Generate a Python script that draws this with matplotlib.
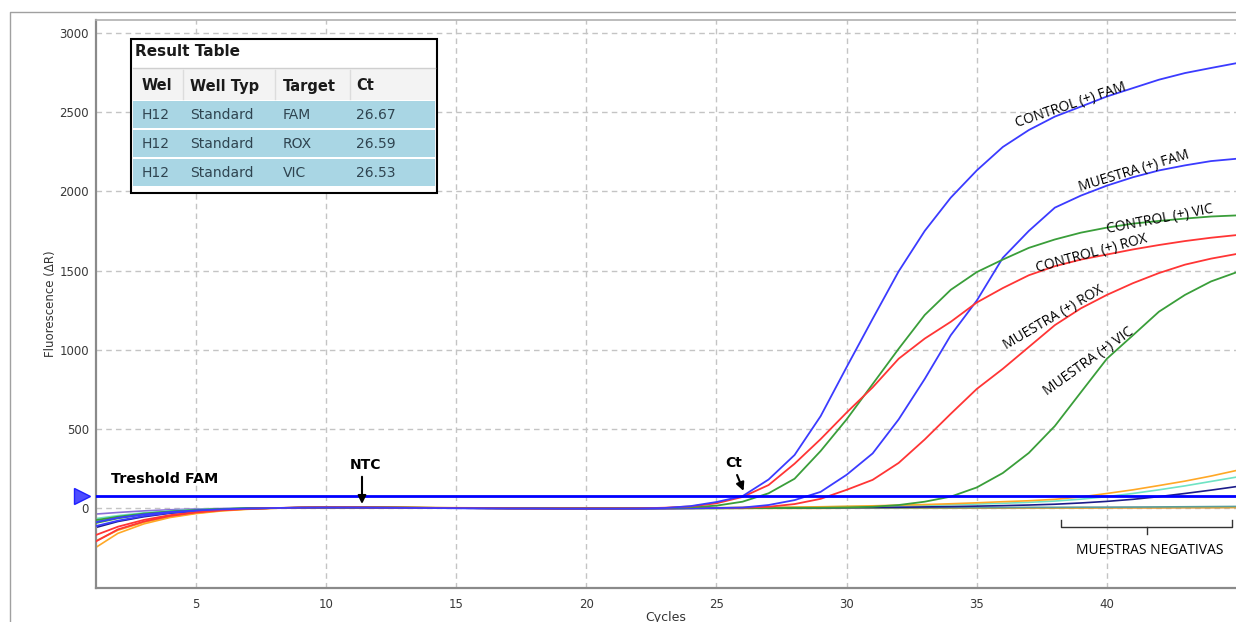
import matplotlib
matplotlib.use("Agg")
import matplotlib.pyplot as plt
from matplotlib.patches import Rectangle
from matplotlib.lines import Line2D

# ---------------- data ----------------
cycles = list(range(1, 46))

ctrl_fam = [-95, -62, -40, -25, -15, -8, -3, 0, 2, 3,
            3, 2, 1, 0, -1, -2, -3, -3, -4, -4,
            -4, -3, 0, 12, 38, 75, 180, 335, 580, 890,
            1195, 1495, 1750, 1960, 2132, 2280, 2387, 2472, 2535, 2599,
            2652, 2705, 2747, 2779, 2810]
mue_fam = [-120, -80, -50, -30, -18, -9, -3, 0, 2, 3,
           3, 2, 1, 0, -1, -2, -3, -3, -4, -4,
           -4, -4, -3, -2, 0, 3, 19, 50, 102, 210,
           345, 560, 815, 1091, 1310, 1580, 1750, 1897, 1973, 2036,
           2089, 2132, 2164, 2191, 2206]
ctrl_rox = [-225, -135, -85, -50, -28, -14, -5, 0, 3, 4,
            4, 3, 2, 1, 0, -1, -2, -3, -3, -3,
            -3, -2, 2, 10, 30, 70, 145, 280, 435, 603,
            762, 943, 1070, 1176, 1298, 1389, 1470, 1527, 1569, 1601,
            1633, 1661, 1686, 1707, 1724]
mue_rox = [-180, -118, -75, -45, -25, -12, -4, 0, 3, 4,
           4, 3, 2, 1, 0, -1, -2, -3, -3, -3,
           -3, -3, -2, -1, 0, 2, 8, 25, 58, 115,
           178, 285, 433, 595, 752, 879, 1017, 1155, 1261, 1346,
           1420, 1484, 1537, 1575, 1605]
ctrl_vic = [-80, -55, -35, -22, -13, -6, -2, 0, 2, 3,
            3, 3, 2, 1, 0, -1, -2, -2, -3, -3,
            -3, -2, 0, 5, 15, 40, 93, 185, 360, 560,
            783, 1006, 1219, 1378, 1490, 1569, 1643, 1696, 1739, 1771,
            1796, 1813, 1828, 1841, 1848]
mue_vic = [-100, -65, -40, -24, -14, -7, -2, 0, 2, 3,
           3, 3, 2, 1, 0, -1, -2, -2, -3, -3,
           -3, -3, -3, -2, -2, -1, 0, 1, 2, 4,
           8, 19, 40, 72, 130, 221, 348, 518, 731, 943,
           1091, 1240, 1346, 1431, 1490]

neg_orange = [-265, -160, -100, -60, -35, -18, -8, -2, 2, 4,
              5, 5, 4, 3, 2, 1, 0, -1, -1, -1,
              -1, 0, 0, 1, 2, 3, 4, 6, 8, 11,
              14, 18, 22, 27, 33, 40, 46, 55, 70, 92,
              115, 142, 170, 202, 238]
neg_aqua = [-70, -48, -30, -18, -10, -5, -2, 0, 2, 3,
            3, 3, 2, 1, 0, -1, -1, -2, -2, -2,
            -2, -1, 0, 1, 2, 3, 4, 5, 7, 9,
            11, 14, 17, 21, 25, 30, 36, 44, 56, 72,
            92, 115, 140, 168, 196]
neg_navy = [-130, -85, -55, -33, -20, -10, -4, 0, 2, 3,
            3, 3, 2, 1, 0, -1, -1, -2, -2, -2,
            -2, -2, -1, -1, 0, 0, 1, 2, 2, 3,
            4, 5, 7, 9, 12, 15, 19, 24, 32, 42,
            55, 72, 92, 113, 136]
neg_teal = [-90, -60, -38, -23, -13, -6, -2, 0, 2, 3,
            4, 4, 3, 2, 1, 0, -1, -1, -2, -2,
            -2, -2, -2, -1, -1, -1, 0, 0, 0, 1,
            1, 1, 2, 2, 3, 3, 4, 4, 5, 5,
            6, 7, 8, 9, 10]
neg_orange2 = [-220, -140, -90, -55, -32, -16, -6, -1, 2, 3,
               4, 4, 3, 2, 1, 0, -1, -1, -2, -2,
               -2, -2, -2, -2, -2, -2, -2, -2, -2, -1,
               -1, -1, -1, -1, 0, 0, 0, 0, 0, 1,
               1, 1, 2, 2, 3]
neg_purple = [-40, -28, -18, -11, -6, -3, -1, 0, 1, 2,
              2, 2, 2, 1, 1, 0, 0, -1, -1, -1,
              -1, -1, -1, -1, -1, -1, -1, 0, 0, 0,
              0, 0, 1, 1, 1, 1, 2, 2, 2, 3,
              3, 3, 4, 4, 5]

threshold_fam = 75

x_ticks = [5, 10, 15, 20, 25, 30, 35, 40]
y_ticks = [0, 500, 1000, 1500, 2000, 2500, 3000]

table_title = "Result Table"
table_header = ["Wel", "Well Typ", "Target", "Ct"]
table_well = ["H12", "H12", "H12"]
table_type = ["Standard", "Standard", "Standard"]
table_target = ["FAM", "ROX", "VIC"]
table_ct = ["26.67", "26.59", "26.53"]

curve_labels = ["CONTROL (+) FAM", "MUESTRA (+) FAM", "CONTROL (+) VIC",
                "CONTROL (+) ROX", "MUESTRA (+) ROX", "MUESTRA (+) VIC"]

# ---------------- figure ----------------
W, H = 1236, 622
fig = plt.figure(figsize=(W / 100, H / 100), dpi=100)
fig.patch.set_facecolor("white")

def fx(px):
    return px / W

def fy(py):
    return 1 - py / H

ax = fig.add_axes([fx(96), fy(588), fx(1236) - fx(96), fy(20) - fy(588)])
ax.set_xlim(1.16, 44.96)
ax.set_ylim(-505, 3082)

BLUE = "#3b3bff"
RED = "#ff3535"
GREEN = "#3a9e3a"

for data, col in [(neg_purple, "#8a6fd8"), (neg_orange2, "#f5a623"),
                  (neg_teal, "#5a9e9a"), (neg_aqua, "#6fe3c4"),
                  (neg_navy, "#1c1c8a"), (neg_orange, "#ffa826")]:
    ax.plot(cycles, data, color=col, lw=1.2, zorder=2)

for data, col in [(mue_vic, GREEN), (mue_rox, RED), (mue_fam, BLUE),
                  (ctrl_vic, GREEN), (ctrl_rox, RED), (ctrl_fam, BLUE)]:
    ax.plot(cycles, data, color=col, lw=1.3, zorder=3)

ax.axhline(threshold_fam, color="#0000ff", lw=2.0, zorder=4)
ax.plot([-0.012], [threshold_fam], marker=">", markersize=11,
        color="#4d4dff", markeredgecolor="#2020ff",
        transform=ax.get_yaxis_transform(), clip_on=False, zorder=5)

# grid, spines, ticks
ax.set_xticks(x_ticks)
ax.set_yticks(y_ticks)
ax.grid(True, color="#c4c4c4", linestyle=(0, (4, 3)), lw=1.0)
ax.set_axisbelow(True)
for s in ["left", "bottom", "top"]:
    ax.spines[s].set_color("#8a8a8a")
    ax.spines[s].set_linewidth(1.6)
ax.spines["top"].set_color("#b0b0b0")
ax.spines["top"].set_linewidth(1.2)
ax.spines["right"].set_visible(False)
ax.tick_params(axis="both", length=0, labelsize=8.5, labelcolor="#383838")
ax.tick_params(axis="y", pad=5)
ax.tick_params(axis="x", pad=7)

ax.set_xlabel("Cycles", fontsize=9, color="#333333", labelpad=0)
ax.set_ylabel("Fluorescence (ΔR)", fontsize=8.5, color="#333333", labelpad=2)

# annotations
ax.text(1.75, 183, "Treshold FAM", fontsize=10.3, fontweight="bold",
        ha="left", va="center", zorder=6)
ax.annotate("", xy=(11.38, 8), xytext=(11.38, 215),
            arrowprops=dict(arrowstyle="-|>", color="black", lw=1.5,
                            mutation_scale=12), zorder=6)
ax.text(11.5, 272, "NTC", fontsize=10, fontweight="bold",
        ha="center", va="center", zorder=6)
ax.annotate("", xy=(26.08, 92), xytext=(25.75, 225),
            arrowprops=dict(arrowstyle="-|>", color="black", lw=1.5,
                            mutation_scale=12), zorder=6)
ax.text(25.65, 287, "Ct", fontsize=10, fontweight="bold",
        ha="center", va="center", zorder=6)

label_pos = [(38.6, 2545, 18.7), (41.04, 2124, 16.8), (42.03, 1825, 10.9),
             (39.41, 1604, 15.2), (37.96, 1200, 30.5), (39.3, 924, 35.6)]
for txt, (cx, cy, rot) in zip(curve_labels, label_pos):
    ax.text(cx, cy, txt, fontsize=10, rotation=rot, rotation_mode="anchor",
            ha="center", va="center", family="Open Sans", zorder=6)

# bracket for negatives
bx0, bx1, bxm = 38.23, 44.8, 41.53
ax.plot([bx0, bx0, bx1, bx1], [-76, -120, -120, -76], color="#333333",
        lw=1.0, clip_on=False, zorder=6)
ax.plot([bxm, bxm], [-120, -164], color="#333333", lw=1.0, zorder=6)
ax.text(41.65, -268, "MUESTRAS NEGATIVAS", fontsize=10, family="Open Sans",
        ha="center", va="center", zorder=6)

# ---------------- overlay (frame + table) ----------------
ov = fig.add_axes([0, 0, 1, 1], zorder=10)
ov.set_xlim(0, W)
ov.set_ylim(H, 0)
ov.axis("off")

ov.add_line(Line2D([10, 10, W], [H, 12, 12], color="#a0a0a0", lw=1.0))

tx0, tx1, ty0, ty1 = 131, 437, 39, 193
ov.add_patch(Rectangle((tx0, ty0), tx1 - tx0, ty1 - ty0, facecolor="white",
                       edgecolor="none"))
ov.add_patch(Rectangle((133, 69), 302, 31, facecolor="#f3f3f3",
                       edgecolor="none"))
row_tops = [101, 130, 159]
for rt in row_tops:
    ov.add_patch(Rectangle((133, rt), 302, 27, facecolor="#a9d6e4",
                           edgecolor="none"))
for sx in [183, 275, 350]:
    ov.add_line(Line2D([sx, sx], [70, 99], color="#dcdcdc", lw=1.0))
ov.add_line(Line2D([133, 435], [68, 68], color="#cfcfcf", lw=1.0))
ov.add_patch(Rectangle((tx0, ty0), tx1 - tx0, ty1 - ty0, facecolor="none",
                       edgecolor="black", lw=1.5))

ov.text(135, 52, table_title, fontsize=11, fontweight="bold",
        color="#1a1a1a", ha="left", va="center")
col_x = [142, 190, 283, 356]
col_right = [183, 275, 350, 435]
for x, xr, h in zip(col_x, col_right, table_header):
    t = ov.text(x, 86, h, fontsize=10.5, fontweight="bold", color="#1a1a1a",
                ha="left", va="center")
    clip = Rectangle((x - 2, 70), xr - x, 30, transform=ov.transData)
    t.set_clip_path(clip)
for i, rt in enumerate(row_tops):
    yy = rt + 14
    for x, v in zip(col_x, [table_well[i], table_type[i], table_target[i],
                            table_ct[i]]):
        ov.text(x, yy, v, fontsize=10, color="#2f4450", ha="left",
                va="center")

fig.savefig("out.png", dpi=100, facecolor="white")
